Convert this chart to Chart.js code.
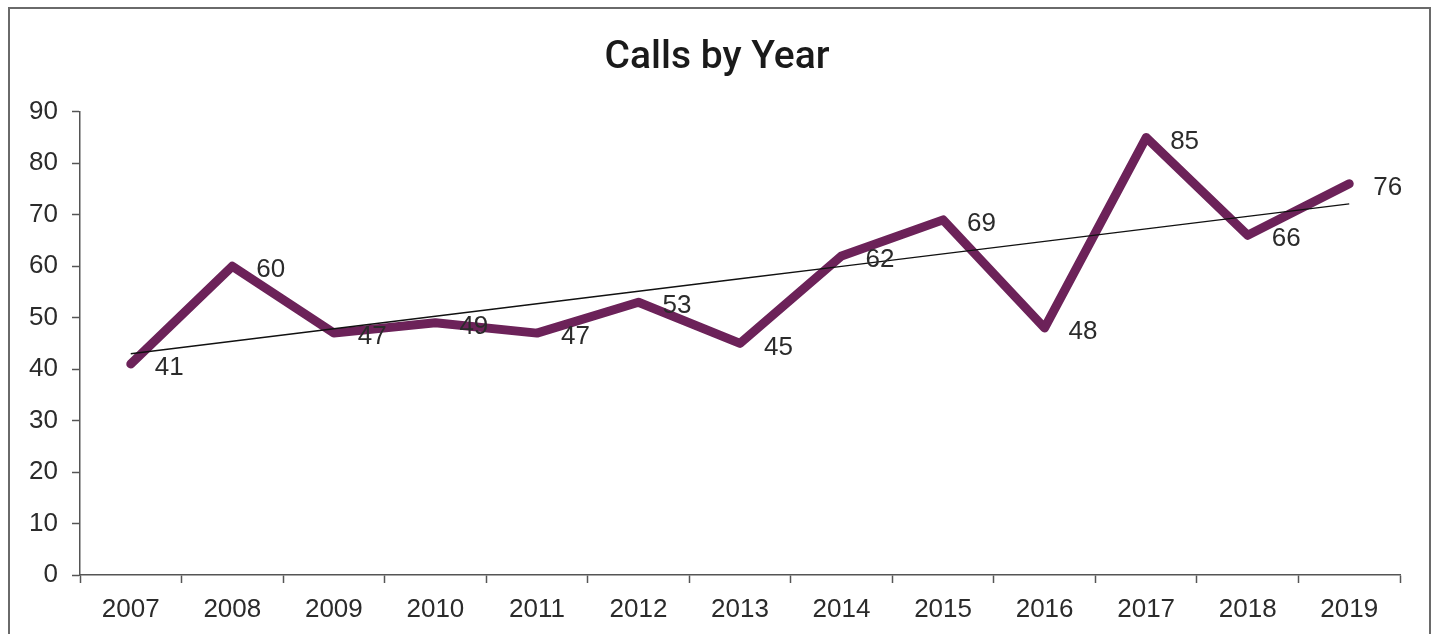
<!DOCTYPE html>
<html>
<head>
<meta charset="utf-8">
<title>Calls by Year</title>
<script src="https://cdn.jsdelivr.net/npm/chart.js@4/dist/chart.umd.min.js"></script>
<style>
  html, body { margin: 0; padding: 0; background: #fff; }
  #wrap { position: relative; width: 1434px; height: 634px; }
</style>
</head>
<body>
<div id="wrap"><canvas id="myChart" width="1434" height="634"></canvas></div>
<script>
// chart data
var years = ['2007', '2008', '2009', '2010', '2011', '2012', '2013', '2014', '2015', '2016', '2017', '2018', '2019'];
var calls = [41, 60, 47, 49, 47, 53, 45, 62, 69, 48, 85, 66, 76];
var yTicks = [0, 10, 20, 30, 40, 50, 60, 70, 80, 90];

// least squares trend line over the calls series
function linearTrend(values) {
  var n = values.length, sx = 0, sy = 0, sxy = 0, sxx = 0;
  values.forEach(function(v, i) { sx += i; sy += v; sxy += i * v; sxx += i * i; });
  var slope = (n * sxy - sx * sy) / (n * sxx - sx * sx);
  var icpt = (sy - slope * sx) / n;
  return values.map(function(v, i) { return icpt + slope * i; });
}
var trend = linearTrend(calls);

var tickFont = { family: "'Liberation Sans', Arial, sans-serif", size: 26 };

// outer frame around the whole chart
var framePlugin = {
  id: 'frame',
  beforeDraw: function(chart) {
    var c = chart.ctx;
    c.save();
    c.strokeStyle = '#6a6a6a';
    c.lineWidth = 2;
    c.strokeRect(9, 8, 1421, 700);
    c.restore();
  }
};

// value labels to the right of every point
var valueLabels = {
  id: 'valueLabels',
  afterDatasetsDraw: function(chart) {
    var meta = chart.getDatasetMeta(1);
    var c = chart.ctx;
    c.save();
    c.font = tickFont.size + 'px ' + tickFont.family;
    c.fillStyle = '#2b2b2b';
    c.textAlign = 'left';
    c.textBaseline = 'middle';
    meta.data.forEach(function(pt, i) {
      c.fillText(String(calls[i]), pt.x + 24, pt.y + 4);
    });
    c.restore();
  }
};

var ctx = document.getElementById('myChart').getContext('2d');
var chart = new Chart(ctx, {
  type: 'line',
  data: {
    labels: years,
    datasets: [{
      label: 'Trend',
      data: trend,
      borderColor: '#111',
      borderWidth: 1.5,
      pointRadius: 0,
      fill: false,
      order: 0
    }, {
      label: 'Calls',
      data: calls,
      borderColor: '#6c2259',
      borderWidth: 9,
      borderCapStyle: 'round',
      borderJoinStyle: 'round',
      pointRadius: 0,
      tension: 0,
      fill: false,
      order: 1
    }]
  },
  options: {
    responsive: false,
    animation: false,
    layout: { padding: 0 },
    plugins: {
      legend: { display: false },
      tooltip: { enabled: false },
      title: {
        display: true,
        text: 'Calls by Year',
        color: '#1a1a1a',
        font: { family: "Roboto, 'Liberation Sans', sans-serif", size: 39, weight: '500' },
        padding: { top: 35, bottom: 30 }
      }
    },
    scales: {
      x: {
        type: 'category',
        offset: true,
        grid: { display: true, offset: true, drawOnChartArea: false, tickLength: 8, color: '#555', tickWidth: 1.5 },
        border: { display: true, color: '#555', width: 1.5 },
        ticks: { color: '#2b2b2b', font: tickFont, padding: 11, maxRotation: 0, autoSkip: false },
        afterFit: function(s) { s.height = 59; s.paddingLeft = 0; s.paddingRight = 0; }
      },
      y: {
        min: 0,
        max: 90,
        afterBuildTicks: function(s) { s.ticks = yTicks.map(function(v) { return { value: v }; }); },
        grid: { display: true, drawOnChartArea: false, tickLength: 8, color: '#555', tickWidth: 1.5 },
        border: { display: true, color: '#555', width: 1.5 },
        ticks: { color: '#2b2b2b', font: tickFont, padding: 14 },
        afterFit: function(s) { s.width = 80; s.paddingTop = 0; s.paddingBottom = 0; }
      },
      // empty right-hand gutter so the title stays centred on the full width
      yRight: {
        position: 'right',
        min: 0,
        max: 90,
        grid: { display: false },
        border: { display: false },
        ticks: { display: false },
        afterFit: function(s) { s.width = 34; s.paddingTop = 0; s.paddingBottom = 0; }
      }
    }
  },
  plugins: [framePlugin, valueLabels]
});
</script>
</body>
</html>
